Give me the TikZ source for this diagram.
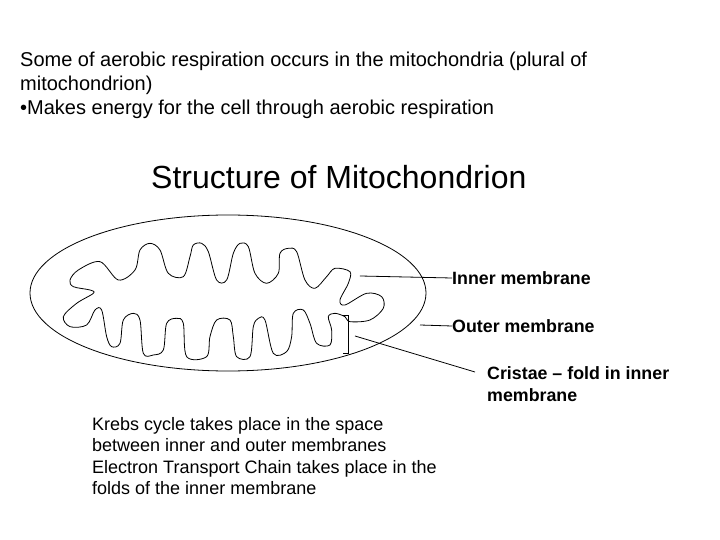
\documentclass[tikz,border=0pt]{standalone}
\usepackage{fontspec}
\usetikzlibrary{shapes.geometric}
\setmainfont{Liberation Sans}
\begin{document}
\begin{tikzpicture}[x=1pt,y=-1pt,
  txt/.style={anchor=north west,inner sep=0pt,align=left,font=\fontsize{20}{24}\selectfont},
  lbl/.style={anchor=west,inner sep=0pt,align=left,font=\bfseries\fontsize{17.8}{22}\selectfont},
  ln/.style={draw=black,line width=0.8pt}]
\useasboundingbox (0,0) rectangle (720,540);
\node[txt] (intro) at (20,52) {Some of aerobic respiration occurs in the mitochondria (plural of\\mitochondrion)\\\textbullet Makes energy for the cell through aerobic respiration};
\node[anchor=north west,inner sep=0pt,font=\fontsize{32}{36}\selectfont] (title) at (151,165) {Structure of Mitochondrion};
\node[ln,ellipse,minimum width=396pt,minimum height=156pt,inner sep=0pt] (outer) at (228,293) {};
\begin{scope}[shift={(20,210)},x=0.3333pt,y=-0.3333pt]
\draw[ln] plot[smooth cycle,tension=0.55] coordinates {
(240,155)(295,210)(345,180)(360,120)(390,100)(420,120)(445,190)(490,200)(510,140)(520,105)(545,100)(565,125)(590,210)(620,210)(640,130)(660,100)(685,110)(705,190)(740,220)(775,190)(780,130)(805,115)(830,125)(855,210)(885,235)(920,200)(945,175)(990,185)(985,220)(960,270)(975,285)(1040,250)(1085,260)(1090,295)(1050,330)(990,335)(975,320)(945,310)(925,320)(935,360)(930,405)(890,400)(870,340)(850,300)(820,310)(815,380)(800,425)(760,430)(735,330)(715,325)(700,350)(690,440)(650,440)(640,380)(630,330)(590,330)(570,380)(560,440)(500,440)(490,340)(470,325)(440,340)(430,420)(400,435)(370,430)(360,330)(340,310)(310,330)(300,400)(275,410)(260,380)(245,300)(225,300)(200,345)(150,350)(130,320)(170,280)(220,250)(210,240)(160,230)(150,210)(175,180)};
\draw[ln] (970,315) -- (985,315) -- (985,430) -- (970,430);
\coordinate (im) at (1020,198);
\coordinate (cr) at (1005,378);
\end{scope}
\node[lbl] (tin) at (452,278) {Inner membrane};
\node[lbl] (tout) at (452,326) {Outer membrane};
\node[lbl,anchor=north west] (tcr) at (487,366) {Cristae -- fold in inner\\membrane};
\draw[ln] (im) -- (tin.west);
\draw[ln] (420,325) -- (tout.west);
\draw[ln] (cr) -- (475,372);
\node[txt,font=\fontsize{18}{21.5}\selectfont] (krebs) at (92,417) {Krebs cycle takes place in the space\\between inner and outer membranes\\Electron Transport Chain takes place in the\\folds of the inner membrane};
\end{tikzpicture}
\end{document}
